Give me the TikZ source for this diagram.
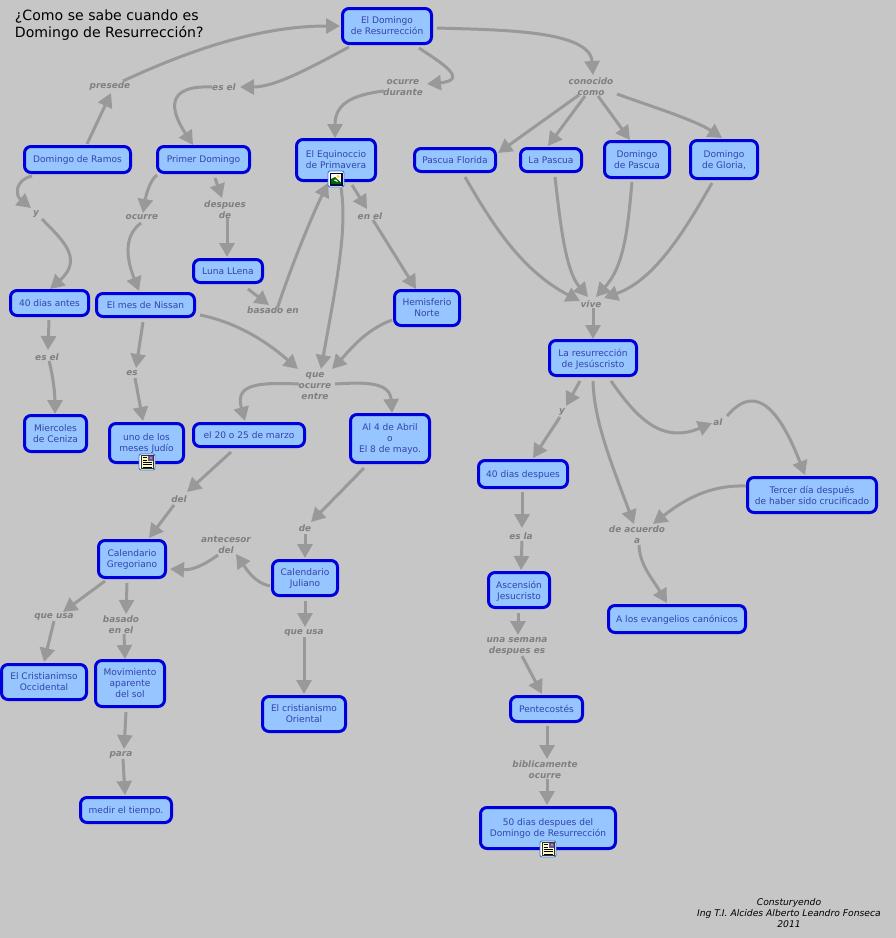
\documentclass[tikz,border=0pt]{standalone}
\usepackage{fontspec}
\setmainfont{DejaVu Sans}
\usetikzlibrary{arrows.meta}
\definecolor{bgc}{HTML}{C6C6C6}
\definecolor{boxfill}{HTML}{96C5FF}
\definecolor{boxline}{HTML}{0000DC}
\definecolor{boxtext}{HTML}{3344AA}
\definecolor{labtext}{HTML}{808080}
\definecolor{linec}{HTML}{999999}
\definecolor{iconring}{HTML}{3A78C8}
\tikzset{
  box/.style 2 args={draw=boxline,fill=boxfill,line width=3pt,rounded corners=6.5pt,
    minimum width=#1pt-3pt,minimum height=#2pt-3pt,inner sep=0pt,outer sep=0pt,align=center,
    text=boxtext,text depth=-2pt,font=\fontsize{9.05}{11}\selectfont},
  lab/.style={inner sep=0pt,outer sep=0pt,align=center,text=labtext,text depth=0pt,
    font=\fontsize{8.9}{11}\selectfont\bfseries\itshape},
  conn/.style={draw=linec,line width=3pt,-{Triangle[length=14pt,width=15pt]}},
  free/.style={inner sep=0pt,outer sep=0pt,text=black}
}
\newcommand{\imgicon}[2]{\begin{scope}[shift={(#1,#2)}]
  \draw[draw=iconring,fill=white,line width=.9pt,rounded corners=2pt] (-8,-8) rectangle (8,8);
  \fill[fill=black!70!blue] (-6.5,-6.5) rectangle (6.5,6.5);
  \fill[fill=white] (-5,-5) rectangle (5,5);
  \fill[fill=yellow!80!orange] (2.2,-2.6) circle (1.7);
  \fill[fill=green!40!black] (-5,5) -- (-5,0) -- (-1,-2) -- (5,3.5) -- (5,5) -- cycle;
  \fill[fill=white] (-2.5,1) -- (0,0.5) -- (2,3) -- (0.5,2.5) -- cycle;
\end{scope}}
\newcommand{\docicon}[2]{\begin{scope}[shift={(#1,#2)}]
  \draw[draw=iconring,fill=white,line width=.9pt,rounded corners=2pt] (-8,-8) rectangle (8,8);
  \draw[draw=black!80,fill=yellow!25!white,line width=.9pt] (-6,-6.5) rectangle (6,6.5);
  \fill[fill=gray!70!blue] (0.5,-6) rectangle (5.5,-1);
  \fill[fill=red!60!white] (2.5,-5.5) rectangle (5,-3.5);
  \draw[black,line width=.7pt] (-4.5,-4.5) -- (-0.5,-4.5) (-4.5,-2) -- (-0.5,-2) (-4.5,.5) -- (4.5,.5) (-4.5,2.8) -- (4.5,2.8) (-4.5,5) -- (4.5,5);
\end{scope}}
\begin{document}
\begin{tikzpicture}[x=1pt,y=-1pt]
\useasboundingbox (0,0) rectangle (896,938);
\fill[bgc] (0,0) rectangle (896,938);
% title and credit
\node[free,anchor=north west,align=left,font=\fontsize{14.1}{17}\selectfont] (title) at (15,10) {¿Como se sabe cuando es\\Domingo de Resurrección?};
\node[free,align=center,font=\fontsize{9.2}{11}\selectfont\itshape] (credit) at (789,913) {Consturyendo\\Ing T.I. Alcides Alberto Leandro Fonseca\\2011};
% concepts
\node[box={92}{38}] (dr) at (387,26) {El Domingo\\de Resurrección};
\node[box={109}{29}] (ramos) at (77.5,159.5) {Domingo de Ramos};
\node[box={95}{29}] (primer) at (203.5,159.5) {Primer Domingo};
\node[box={82}{44},text depth=1pt] (equi) at (336,160) {El Equinoccio\\de Primavera};
\node[box={84}{26}] (florida) at (455,160) {Pascua Florida};
\node[box={64}{26}] (lapascua) at (551,160) {La Pascua};
\node[box={68}{39}] (dpascua) at (637,159.5) {Domingo\\de Pascua};
\node[box={70}{41}] (gloria) at (724,159.5) {Domingo\\de Gloria,};
\node[box={72}{26}] (luna) at (228,271) {Luna LLena};
\node[box={81}{28}] (antes) at (49.5,303) {40 dias antes};
\node[box={101}{26}] (nissan) at (145.5,305) {El mes de Nissan};
\node[box={68}{38}] (hemi) at (427,308) {Hemisferio\\Norte};
\node[box={65}{39}] (mierc) at (55.5,433.5) {Miercoles\\de Ceniza};
\node[box={77}{42},text depth=1pt] (uno) at (146.5,443) {uno de los\\meses Judío};
\node[box={114}{26}] (marzo) at (249,435) {el 20 o 25 de marzo};
\node[box={82}{51}] (abril) at (390,438.5) {Al 4 de Abril\\o\\El 8 de mayo.};
\node[box={70}{40}] (greg) at (132,559) {Calendario\\Gregoriano};
\node[box={68}{38}] (jul) at (305,578) {Calendario\\Juliano};
\node[box={90}{38}] (resur) at (593,358) {La resurrección\\de Jesúscristo};
\node[box={92}{30}] (d40) at (523,474) {40 dias despues};
\node[box={132}{38}] (tercer) at (812,495) {Tercer día después\\de haber sido crucificado};
\node[box={64}{38}] (asc) at (519,590) {Ascensión\\Jesucristo};
\node[box={140}{30}] (evang) at (677,619) {A los evangelios canónicos};
\node[box={88}{38}] (crist) at (44,682) {El Cristianimso\\Occidental};
\node[box={72}{49}] (mov) at (130,683.5) {Movimiento\\aparente\\del sol};
\node[box={94}{28}] (medir) at (126,810) {medir el tiempo.};
\node[box={86}{38}] (orient) at (304,714) {El cristianismo\\Oriental};
\node[box={75}{28}] (pente) at (546.5,709) {Pentecostés};
\node[box={138}{44},text depth=1pt] (d50) at (548,828) {50 dias despues del\\Domingo de Resurrección};
% linking phrases
\node[lab] (lpres) at (110,85) {presede};
\node[lab] (lesel1) at (224,87) {es el};
\node[lab] (lodur) at (403,88) {ocurre\\durante};
\node[lab] (lcono) at (591,87) {conocido\\como};
\node[lab] (ldesp) at (225,210) {despues\\de};
\node[lab] (locu) at (142,217) {ocurre};
\node[lab] (ly1) at (36,213) {y};
\node[lab] (lenel) at (370,216) {en el};
\node[lab] (lbas) at (273,310) {basado en};
\node[lab] (lvive) at (591,304) {vive};
\node[lab] (lque) at (315,386) {que\\ocurre\\entre};
\node[lab] (lesel2) at (47,357) {es el};
\node[lab] (les) at (132,373) {es};
\node[lab] (ly2) at (562,411) {y};
\node[lab] (lal) at (718,422) {al};
\node[lab] (lacu) at (637,535) {de acuerdo\\a};
\node[lab] (lesla) at (521,536) {es la};
\node[lab] (lsem) at (517,645) {una semana\\despues es};
\node[lab] (lbib) at (545,770) {biblicamente\\ocurre};
\node[lab] (ldel) at (179,499) {del};
\node[lab] (lant) at (226,545) {antecesor\\del};
\node[lab] (lde) at (305,528) {de};
\node[lab] (lqu1) at (54,616) {que usa};
\node[lab] (lbas2) at (121,625) {basado\\en el};
\node[lab] (lpara) at (121,754) {para};
\node[lab] (lqu2) at (304,632) {que usa};
% connectors
\draw[conn] ([shift={(9.5,-15.5)}]ramos.center) -- ([shift={(1,8)}]lpres.center);
\draw[conn] ([shift={(13,-4)}]lpres.center) .. controls (190,50) and (260,26) .. ([shift={(-47,0)}]dr.center);
\draw[conn] ([shift={(-38,21)}]dr.center) .. controls (310,68) and (275,87) .. ([shift={(16,0)}]lesel1.center);
\draw[conn] ([shift={(-12,0)}]lesel1.center) .. controls (165,85) and (170,110) .. ([shift={(-10.5,-14.5)}]primer.center);
\draw[conn] ([shift={(-45.5,16.5)}]ramos.center) .. controls (15,180) and (15,195) .. ([shift={(-5,-5)}]ly1.center);
\draw[conn] ([shift={(6,6)}]ly1.center) .. controls (60,238) and (85,258) .. ([shift={(.5,-14)}]antes.center);
\draw[conn] ([shift={(-46.5,15.5)}]primer.center) .. controls (150,180) and (146,195) .. ([shift={(1,-4)}]locu.center);
\draw[conn] ([shift={(-1,6)}]locu.center) .. controls (125,235) and (125,255) .. ([shift={(-6.5,-14)}]nissan.center);
\draw[conn] ([shift={(11.5,18.5)}]primer.center) -- ([shift={(-3,-12)}]ldesp.center);
\draw[conn] ([shift={(2,8)}]ldesp.center) -- ([shift={(-1,-14)}]luna.center);
\draw[conn] ([shift={(20,18)}]luna.center) -- ([shift={(-4,-5)}]lbas.center);
\draw[conn] ([shift={(4,-1)}]lbas.center) .. controls (290,270) and (310,220) .. ([shift={(-8,23)}]equi.center);
\draw[conn] ([shift={(5,28)}]equi.center) .. controls (348,230) and (335,290) .. ([shift={(6,-17)}]lque.center);
\draw[conn] ([shift={(-35,12)}]hemi.center) .. controls (365,330) and (350,350) .. ([shift={(17,-17)}]lque.center);
\draw[conn] ([shift={(54.5,10)}]nissan.center) .. controls (235,322) and (265,340) .. ([shift={(-17,-17)}]lque.center);
\draw[conn] ([shift={(16,25)}]equi.center) -- ([shift={(-3,-7)}]lenel.center);
\draw[conn] ([shift={(3,4)}]lenel.center) -- ([shift={(-11,-19)}]hemi.center);
\draw[conn] ([shift={(32,22)}]dr.center) .. controls (440,62) and (470,80) .. ([shift={(24,-4)}]lodur.center);
\draw[conn] ([shift={(-19,3)}]lodur.center) .. controls (350,95) and (335,105) .. ([shift={(-1,-22)}]equi.center);
\draw[conn] ([shift={(50,2)}]dr.center) .. controls (500,30) and (590,30) .. ([shift={(2,-12)}]lcono.center);
\draw[conn] ([shift={(-12,8)}]lcono.center) -- ([shift={(43,-7)}]florida.center);
\draw[conn] ([shift={(-6,9)}]lcono.center) -- ([shift={(-3,-14)}]lapascua.center);
\draw[conn] ([shift={(7,9)}]lcono.center) -- ([shift={(-7,-19.5)}]dpascua.center);
\draw[conn] ([shift={(26,7)}]lcono.center) .. controls (650,106) and (695,120) .. ([shift={(-2,-21.5)}]gloria.center);
\draw[conn] ([shift={(10,17)}]florida.center) .. controls (490,220) and (520,270) .. ([shift={(-11,-3)}]lvive.center);
\draw[conn] ([shift={(4,17)}]lapascua.center) .. controls (560,220) and (565,270) .. ([shift={(-3,-7)}]lvive.center);
\draw[conn] ([shift={(-5,22.5)}]dpascua.center) .. controls (628,225) and (625,265) .. ([shift={(5,-7)}]lvive.center);
\draw[conn] ([shift={(-12,23.5)}]gloria.center) .. controls (685,230) and (655,280) .. ([shift={(13,-6)}]lvive.center);
\draw[conn] ([shift={(2,4)}]lvive.center) -- ([shift={(0,-19)}]resur.center);
\draw[conn] ([shift={(-.5,17)}]antes.center) -- ([shift={(1,-7)}]lesel2.center);
\draw[conn] ([shift={(2,4)}]lesel2.center) .. controls (53,375) and (55,395) .. ([shift={(-.5,-19.5)}]mierc.center);
\draw[conn] ([shift={(-2.5,17)}]nissan.center) -- ([shift={(4,-5)}]les.center);
\draw[conn] ([shift={(3,5)}]les.center) -- ([shift={(-3.5,-22)}]uno.center);
\draw[conn] ([shift={(-16,-2)}]lque.center) .. controls (255,382) and (235,385) .. ([shift={(-4,-14)}]marzo.center);
\draw[conn] ([shift={(20,-2)}]lque.center) .. controls (365,382) and (390,382) .. ([shift={(2,-25.5)}]abril.center);
\draw[conn] ([shift={(-18,17)}]marzo.center) -- ([shift={(8,-7)}]ldel.center);
\draw[conn] ([shift={(-5,6)}]ldel.center) -- ([shift={(17,-21)}]greg.center);
\draw[conn] ([shift={(-26,29.5)}]abril.center) -- ([shift={(6,-6)}]lde.center);
\draw[conn] ([shift={(0,6)}]lde.center) -- ([shift={(0,-20)}]jul.center);
\draw[conn] ([shift={(-35,8)}]jul.center) .. controls (255,583) and (247,570) .. ([shift={(10,9)}]lant.center);
\draw[conn] ([shift={(-8,10)}]lant.center) .. controls (200,568) and (190,570) .. ([shift={(38,10)}]greg.center);
\draw[conn] ([shift={(-27,22)}]greg.center) -- ([shift={(9,-4)}]lqu1.center);
\draw[conn] ([shift={(0,5)}]lqu1.center) -- ([shift={(0,-20)}]crist.center);
\draw[conn] ([shift={(-5,24)}]greg.center) -- ([shift={(5,-11)}]lbas2.center);
\draw[conn] ([shift={(3,9)}]lbas2.center) -- ([shift={(-5,-24.5)}]mov.center);
\draw[conn] ([shift={(-4,28.5)}]mov.center) -- ([shift={(3,-5)}]lpara.center);
\draw[conn] ([shift={(2,5)}]lpara.center) -- ([shift={(-1,-15)}]medir.center);
\draw[conn] ([shift={(0,23)}]jul.center) -- ([shift={(1,-5)}]lqu2.center);
\draw[conn] ([shift={(0,5)}]lqu2.center) -- ([shift={(0,-20)}]orient.center);
\draw[conn] ([shift={(-13,23)}]resur.center) -- ([shift={(4,-5)}]ly2.center);
\draw[conn] ([shift={(-2,6)}]ly2.center) -- ([shift={(10,-16)}]d40.center);
\draw[conn] ([shift={(0,23)}]resur.center) .. controls (594,420) and (610,460) .. ([shift={(-3,-11)}]lacu.center);
\draw[conn] ([shift={(18,23)}]resur.center) .. controls (635,415) and (660,445) .. ([shift={(-6,1)}]lal.center);
\draw[conn] ([shift={(9,-6)}]lal.center) .. controls (745,395) and (770,385) .. ([shift={(-7,-20)}]tercer.center);
\draw[conn] ([shift={(-66,-9)}]tercer.center) .. controls (715,485) and (690,495) .. ([shift={(16,-11)}]lacu.center);
\draw[conn] ([shift={(2,10)}]lacu.center) .. controls (640,565) and (650,575) .. ([shift={(-10,-16)}]evang.center);
\draw[conn] ([shift={(-1,18)}]d40.center) -- ([shift={(1,-8)}]lesla.center);
\draw[conn] ([shift={(1,5)}]lesla.center) -- ([shift={(2,-20)}]asc.center);
\draw[conn] ([shift={(-1,23)}]asc.center) -- ([shift={(1,-10)}]lsem.center);
\draw[conn] ([shift={(5,11)}]lsem.center) -- ([shift={(-4.5,-15)}]pente.center);
\draw[conn] ([shift={(.5,17)}]pente.center) -- ([shift={(2,-11)}]lbib.center);
\draw[conn] ([shift={(2,9)}]lbib.center) -- ([shift={(-1,-23)}]d50.center);
% attachment icons
\imgicon{336}{179}
\docicon{147}{462}
\docicon{548}{849}
\end{tikzpicture}
\end{document}
